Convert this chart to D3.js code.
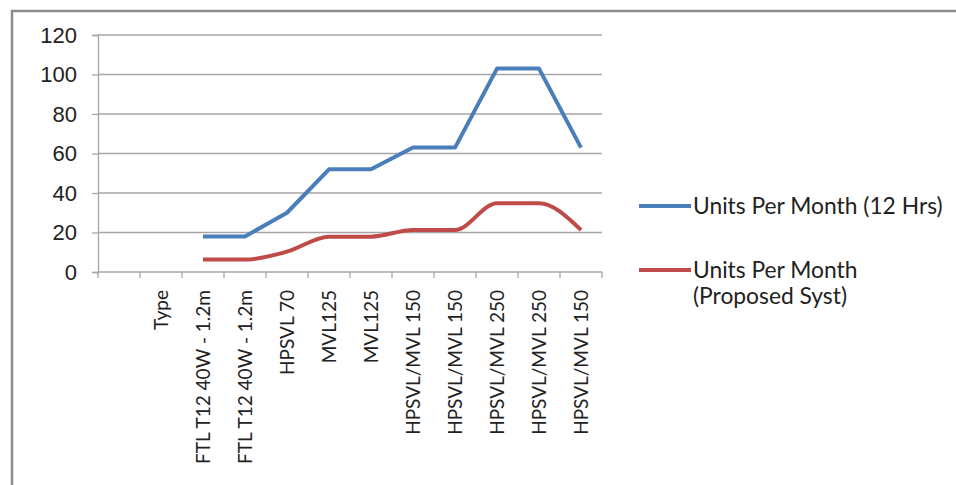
<!DOCTYPE html>
<html>
<head>
<meta charset="utf-8">
<script src="https://cdn.jsdelivr.net/npm/d3@7"></script>
<style>
  body { margin: 0; background: #fff; }
  svg { display: block; }
</style>
</head>
<body>
<div id="lineChart"></div>
<script>
// categories along the x axis (first slot is blank, as in the sheet)
let categories = ['', 'Type', 'FTL T12 40W - 1.2m', 'FTL T12 40W - 1.2m', 'HPSVL 70', 'MVL125', 'MVL125',
  'HPSVL/MVL 150', 'HPSVL/MVL 150', 'HPSVL/MVL 250', 'HPSVL/MVL 250', 'HPSVL/MVL 150'];

// series values (null = no point)
let unitsCurrent  = [null, null, 18, 18, 30, 52, 52, 63, 63, 103, 103, 63];
let unitsProposed = [null, null, 6.3, 6.3, 10.3, 17.9, 17.9, 21.3, 21.3, 34.8, 34.8, 21.3];

let yTicks = [0, 20, 40, 60, 80, 100, 120];
let seriesNames = ['Units Per Month (12 Hrs)', 'Units Per Month|(Proposed Syst)'];
let seriesColors = ['#4a7ebb', '#be4b48'];

let width = 956, height = 485;
let margin = { top: 35, bottom: 213, left: 98, right: 354 };

let svg = d3.select('#lineChart')
  .append('svg')
  .attr('width', width)
  .attr('height', height)
  .style('font-family', 'Lato, "Open Sans", sans-serif');

// chart frame (only top and left edges show in the crop)
svg.append('path')
  .attr('d', `M12,${height} L12,11 L${width},11`)
  .attr('fill', 'none')
  .attr('stroke', '#8c8c8c')
  .attr('stroke-width', 2.5);

let xScale = d3.scaleBand()
  .domain(d3.range(categories.length))
  .range([margin.left, width - margin.right]);

let yScale = d3.scaleLinear()
  .domain([0, 120])
  .range([height - margin.bottom, margin.top]);

// gridlines
svg.append('g')
  .selectAll('line')
  .data(yTicks.filter(d => d > 0))
  .enter().append('line')
  .attr('x1', margin.left)
  .attr('x2', width - margin.right)
  .attr('y1', d => yScale(d))
  .attr('y2', d => yScale(d))
  .attr('stroke', '#a6a6a6')
  .attr('stroke-width', 1.3);

// y axis
let yAxis = svg.append('g')
  .attr('transform', `translate(${margin.left},0)`)
  .call(d3.axisLeft(yScale).tickValues(yTicks).tickSize(6).tickPadding(15));
yAxis.select('.domain').attr('stroke', '#a6a6a6').attr('stroke-width', 1.3);
yAxis.selectAll('.tick line').attr('stroke', '#a6a6a6').attr('stroke-width', 1.3);
yAxis.selectAll('.tick text')
  .attr('font-size', 22)
  .attr('fill', '#222');

// x axis: ticks sit on the band edges
let xAxisG = svg.append('g')
  .attr('transform', `translate(0,${yScale(0)})`);
xAxisG.append('line')
  .attr('x1', margin.left).attr('x2', width - margin.right)
  .attr('stroke', '#a6a6a6').attr('stroke-width', 1.3);
xAxisG.selectAll('.edge')
  .data(d3.range(categories.length + 1))
  .enter().append('line')
  .attr('class', 'edge')
  .attr('x1', i => margin.left + i * xScale.bandwidth())
  .attr('x2', i => margin.left + i * xScale.bandwidth())
  .attr('y1', 0).attr('y2', 6)
  .attr('stroke', '#a6a6a6').attr('stroke-width', 1.3);

// rotated category labels, right-aligned to the top
xAxisG.selectAll('.lbl')
  .data(categories)
  .enter().append('text')
  .attr('class', 'lbl')
  .attr('transform', (d, i) => `translate(${xScale(i) + xScale.bandwidth() / 2 + 7},18) rotate(-90)`)
  .attr('text-anchor', 'end')
  .attr('font-size', 19)
  .attr('fill', '#222')
  .text(d => d);

// lines
let line = d3.line()
  .defined(d => d.v != null)
  .x(d => xScale(d.i) + xScale.bandwidth() / 2)
  .y(d => yScale(d.v));

[unitsCurrent, unitsProposed].forEach((vals, k) => {
  svg.append('path')
    .datum(vals.map((v, i) => ({ i: i, v: v })))
    .attr('fill', 'none')
    .attr('stroke', seriesColors[k])
    .attr('stroke-width', 4)
    .attr('stroke-linejoin', 'round')
    .attr('d', line.curve(k === 1 ? d3.curveMonotoneX : d3.curveLinear));
});

// legend
let legendY = [206, 270];
let legend = svg.selectAll('.legend')
  .data(seriesNames)
  .enter().append('g')
  .attr('class', 'legend')
  .attr('transform', (d, i) => `translate(639,${legendY[i]})`);

legend.append('line')
  .attr('x1', 0).attr('x2', 52)
  .attr('stroke', (d, i) => seriesColors[i])
  .attr('stroke-width', 4);

legend.append('text')
  .attr('x', 54)
  .attr('font-size', 22.8)
  .attr('fill', '#222')
  .selectAll('tspan')
  .data(d => d.split('|'))
  .enter().append('tspan')
  .attr('x', 54)
  .attr('dy', (d, j) => j === 0 ? '0.35em' : '1.15em')
  .text(d => d);
</script>
</body>
</html>
